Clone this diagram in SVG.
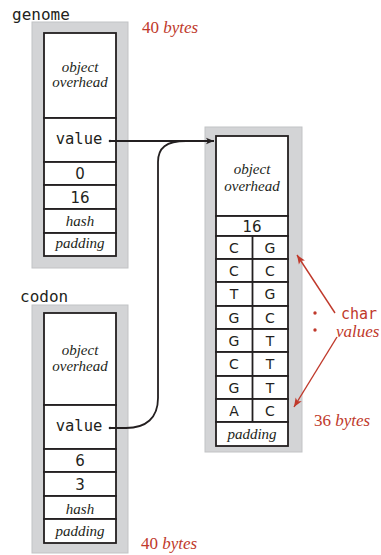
<svg xmlns="http://www.w3.org/2000/svg" width="381" height="555" viewBox="0 0 381 555">
<defs>
<style>
.bg{fill:#d3d4d6;stroke:#c2c3c5;stroke-width:1}
.cell{fill:#fff;stroke:#231f20;stroke-width:1.8}
.it{font-family:"Liberation Serif",serif;font-style:italic;font-size:15px;fill:#231f20;text-anchor:middle}
.mono{font-family:"DejaVu Sans Mono",monospace;font-size:15.5px;fill:#231f20;text-anchor:middle}
.num{font-family:"DejaVu Sans","Liberation Sans",sans-serif;font-size:15px;fill:#231f20;text-anchor:middle}
.sans{font-family:"DejaVu Sans","Liberation Sans",sans-serif;font-size:14px;fill:#231f20;text-anchor:middle}
.lbl{font-family:"DejaVu Sans Mono",monospace;font-size:16px;fill:#231f20}
.red{font-family:"Liberation Serif",serif;font-size:17px;fill:#c0392b}
.redm{font-family:"DejaVu Sans Mono",monospace;font-size:15px;fill:#c0392b}
.wire{fill:none;stroke:#231f20;stroke-width:1.8}
.rwire{fill:none;stroke:#c0392b;stroke-width:1.4}
</style>
<marker id="ah" viewBox="0 0 10 10" refX="10" refY="5" markerWidth="10" markerHeight="8" markerUnits="userSpaceOnUse" orient="auto">
<path d="M0,1 L10,5 L0,9 L2.5,5 Z" fill="#231f20"/>
</marker>
<marker id="rah" viewBox="0 0 10 10" refX="10" refY="5" markerWidth="11" markerHeight="9" markerUnits="userSpaceOnUse" orient="auto">
<path d="M0,1 L10,5 L0,9 L2.5,5 Z" fill="#c0392b"/>
</marker>
</defs>

<g id="genome">
<text class="lbl" x="12" y="20">genome</text>
<rect class="bg" x="32" y="22" width="96" height="246"/>
<rect class="cell" x="44" y="33" width="72" height="85"/>
<rect class="cell" x="44" y="118" width="72" height="44"/>
<rect class="cell" x="44" y="162" width="72" height="23"/>
<rect class="cell" x="44" y="185" width="72" height="24"/>
<rect class="cell" x="44" y="209" width="72" height="24"/>
<rect class="cell" x="44" y="233" width="72" height="23"/>
<text class="it" x="80" y="72">object</text>
<text class="it" x="80" y="87">overhead</text>
<text class="mono" x="79" y="144">value</text>
<text class="num" x="80" y="179">0</text>
<text class="num" x="80" y="203">16</text>
<text class="it" x="80" y="226">hash</text>
<text class="it" x="80" y="248">padding</text>
<text class="red" x="142" y="33">40 <tspan font-style="italic">bytes</tspan></text>
</g>

<g id="codon">
<text class="lbl" x="20" y="302">codon</text>
<rect class="bg" x="32" y="305" width="96" height="248"/>
<rect class="cell" x="44" y="313" width="72" height="92"/>
<rect class="cell" x="44" y="405" width="72" height="44"/>
<rect class="cell" x="44" y="449" width="72" height="23"/>
<rect class="cell" x="44" y="472" width="72" height="24"/>
<rect class="cell" x="44" y="496" width="72" height="23"/>
<rect class="cell" x="44" y="519" width="72" height="24"/>
<text class="it" x="80" y="355">object</text>
<text class="it" x="80" y="371">overhead</text>
<text class="mono" x="79" y="431">value</text>
<text class="num" x="80" y="466">6</text>
<text class="num" x="80" y="490">3</text>
<text class="it" x="80" y="514">hash</text>
<text class="it" x="80" y="536">padding</text>
<text class="red" x="141" y="549">40 <tspan font-style="italic">bytes</tspan></text>
</g>

<g id="chars">
<rect class="bg" x="205" y="127" width="97" height="325"/>
<rect class="cell" x="216" y="136" width="72" height="80"/>
<rect class="cell" x="216" y="216" width="72" height="20"/>
<rect class="cell" x="216" y="236" width="72" height="23"/>
<rect class="cell" x="216" y="259" width="72" height="23"/>
<rect class="cell" x="216" y="282" width="72" height="24"/>
<rect class="cell" x="216" y="306" width="72" height="23"/>
<rect class="cell" x="216" y="329" width="72" height="23"/>
<rect class="cell" x="216" y="352" width="72" height="24"/>
<rect class="cell" x="216" y="376" width="72" height="23"/>
<rect class="cell" x="216" y="399" width="72" height="23"/>
<rect class="cell" x="216" y="422" width="72" height="24"/>
<line class="wire" x1="252.5" y1="236" x2="252.5" y2="422"/>
<text class="it" x="252" y="174">object</text>
<text class="it" x="252" y="191">overhead</text>
<text class="num" x="252" y="232">16</text>
<g class="sans">
<text x="234" y="253">C</text><text x="270" y="253">G</text>
<text x="234" y="276">C</text><text x="270" y="276">C</text>
<text x="234" y="299">T</text><text x="270" y="299">G</text>
<text x="234" y="323">G</text><text x="270" y="323">C</text>
<text x="234" y="346">G</text><text x="270" y="346">T</text>
<text x="234" y="369">C</text><text x="270" y="369">T</text>
<text x="234" y="393">G</text><text x="270" y="393">T</text>
<text x="234" y="416">A</text><text x="270" y="416">C</text>
</g>
<text class="it" x="252" y="439">padding</text>
</g>

<g id="annotation">
<circle cx="315" cy="313" r="1.7" fill="#c0392b"/>
<circle cx="315" cy="330" r="1.7" fill="#c0392b"/>
<text class="redm" x="341" y="319">char</text>
<text class="red" x="336" y="337" font-size="16" font-style="italic">values</text>
<text class="red" x="314" y="426">36 <tspan font-style="italic">bytes</tspan></text>
<path class="rwire" d="M335,313 L297,255" marker-end="url(#rah)"/>
<path class="rwire" d="M337,337 L294,407" marker-end="url(#rah)"/>
</g>

<g id="connectors">
<circle cx="110" cy="141" r="1.3" fill="#231f20"/>
<circle cx="110" cy="428" r="1.3" fill="#231f20"/>
<path class="wire" d="M110,141 H214" marker-end="url(#ah)"/>
<path class="wire" d="M110,428 H126 C146,428 158,418 158,398 V162 C158,148 166,141 186,141"/>
</g>
</svg>
